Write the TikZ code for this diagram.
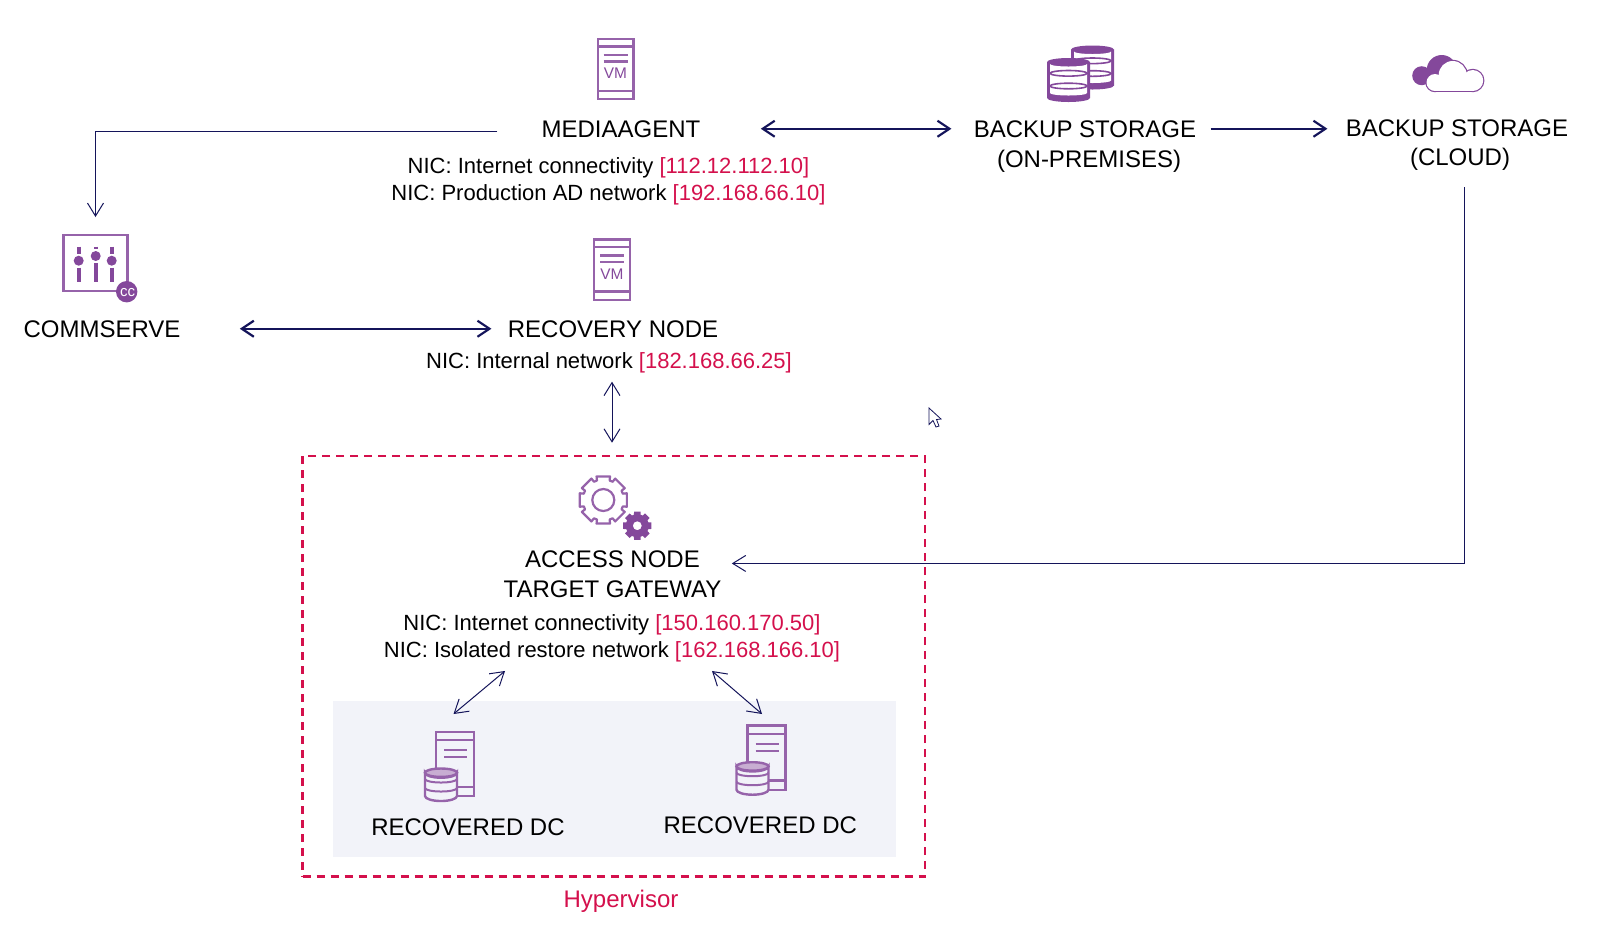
\documentclass[tikz,border=0pt]{standalone}
\usepackage{fontspec}
\setmainfont{Liberation Sans}
\usepackage{xcolor}
\usepackage{tikz}
\usetikzlibrary{arrows.meta,calc}

\definecolor{iconpurple}{HTML}{84489B}
\definecolor{linknavy}{HTML}{14145A}
\definecolor{netred}{HTML}{D4104C}
\definecolor{panelgray}{HTML}{F2F3F9}

\newcommand{\netaddr}[1]{\textcolor{netred}{#1}}

\tikzset{
    titletext/.style={font=\fontsize{12}{14.75}\selectfont, align=center, inner sep=0pt, anchor=base},
    nictext/.style={font=\fontsize{11}{13.3}\selectfont, align=center, inner sep=0pt, anchor=base},
    linkthick/.style={draw=linknavy, line width=1.1pt, >={Straight Barb[length=6pt,width=8pt]}},
    linkthin/.style={draw=linknavy, line width=0.5pt, >={Straight Barb[length=6.5pt,width=8pt]}},
    iconline/.style={draw=iconpurple!85, line width=1.2pt},
    hyperbox/.style={draw=netred, line width=1.3pt, dash pattern=on 4pt off 3pt, minimum width=311.25pt, minimum height=210.35pt, inner sep=0pt},
    % VM server
    vmicon/.pic={
        \draw[iconline] (-17.8,-30.2) rectangle (17.8,30.2);
        \draw[iconline] (-17.8,-22.4) -- (17.8,-22.4) (-17.8,22) -- (17.8,22);
        \draw[iconline] (-12,-14) -- (12,-14) (-12,-7.4) -- (12,-7.4);
        \node[font=\fontsize{7.7}{8}\selectfont, text=iconpurple, inner sep=0pt] (-label) at (0,4.3) {VM};
    },
    % Sliders with badge
    slidericon/.pic={
        \coordinate (-c) at (0,0);
        \draw[iconline] (-32,-27.6) rectangle (32,28.5);
        \foreach \xs/\ky in {-16.8/-1.8, 0.2/-6.5, 16.2/-1.8} {
            \draw[iconpurple, line width=2pt] (\xs,-15.8) -- (\xs,\ky-7) (\xs,\ky+7) -- (\xs,19);
            \fill[iconpurple] (\xs,\ky) circle (5);
        }
        \fill[iconpurple] (31.2,29.2) circle (10.7);
        \node[font=\fontsize{7.5}{8}\selectfont, text=white, inner sep=0pt] (-badge) at (32,30) {cc};
    },
    % Two gears
    gearicon/.pic={
        \draw[iconline, line width=1.1pt, line join=round] (-16:24.5)
            \foreach \a in {0,45,...,315} {
                -- (\a-16:24.5) -- (\a+16:24.5) -- (\a+18:20.5) -- (\a+27:20.5)
            } -- cycle;
        \draw[iconline, line width=1.1pt] (0,0) circle (11);
        \fill[iconpurple, even odd rule] (34,25.7) circle (4.5)
            ++(-13:14.5)
            \foreach \a in {0,45,...,315} {
                -- ($(34,25.7)+(\a-13:14.5)$) -- ($(34,25.7)+(\a+13:14.5)$) -- ($(34,25.7)+(\a+17:11.5)$) -- ($(34,25.7)+(\a+28:11.5)$)
            } -- cycle;
    },
    % Server with database
    dcicon/.pic={
        \coordinate (-c) at (0,0);
        \draw[iconline] (-19,-32.3) rectangle (19,32);
        \draw[iconline] (-19,-24) -- (19,-24) (-19,22.7) -- (19,22.7);
        \draw[iconline] (-11,-14) -- (12,-14) (-11,-7) -- (12,-7);
        \filldraw[iconline, fill=panelgray] (-30,8.7) -- (-30,32) arc[start angle=180,end angle=0,x radius=16,y radius=5] -- (2,8.7) arc[start angle=0,end angle=180,x radius=16,y radius=5] -- cycle;
        \draw[iconline, line width=1pt] (-30,15) arc[start angle=180,end angle=0,x radius=16,y radius=3.5];
        \draw[iconline, line width=1pt] (-30,24) arc[start angle=180,end angle=0,x radius=16,y radius=3.5];
        \filldraw[iconline, fill=iconpurple!45] (-14,8.7) ellipse [x radius=16,y radius=4.2];
    },
    % Solid database drum
    drumicon/.pic={
        \fill[iconpurple] (-21.5,-18) arc[start angle=180,end angle=360,x radius=21.5,y radius=4] -- (21.5,18) arc[start angle=0,end angle=180,x radius=21.5,y radius=4] -- cycle;
        \fill[white] (-18.5,-16) arc[start angle=180,end angle=0,x radius=18.5,y radius=2.5] -- (18.5,13) arc[start angle=0,end angle=180,x radius=18.5,y radius=2.5] -- cycle;
        \draw[iconpurple, line width=0.8pt] (0,-6.7) ellipse [x radius=18.5,y radius=2.8];
        \draw[iconpurple, line width=0.8pt] (0,6) ellipse [x radius=18.5,y radius=2.8];
    }
}

\begin{document}
\begin{tikzpicture}[x=0.5pt, y=-0.5pt]
\useasboundingbox (0,0) rectangle (1604,934);

% Recovered network panel and hypervisor frame
\fill[panelgray] (333,701) rectangle (896,856.7);
\node[hyperbox] (hypervisorbox) at (613.75,666.35) {};
\node[titletext, text=netred] (hypervisor) at (621,907.7) {Hypervisor};

% Top row
\pic (mediaagenticon) at (615.5,69) {vmicon};
\node[titletext] (mediaagent) at (621,137.5) {MEDIAAGENT};
\node[nictext] (mediaagentnic) at (608.5,200) {NIC: Internet connectivity \netaddr{[112.12.112.10]}\\NIC: Production AD network \netaddr{[192.168.66.10]}};

\pic (backupback) at (1092.5,67.5) {drumicon};
\pic (backupfront) at (1068.5,80) {drumicon};
\node[titletext] (backupstore) at (1085,167) {BACKUP STORAGE\\\hspace*{4pt}(ON-PREMISES)};

% Cloud icon
\foreach \cx/\cy/\cr in {1421.7/75.7/9.5, 1441.7/70/15} {
    \fill[iconpurple] (\cx,\cy) circle (\cr);
}
\foreach \cx/\cy/\cr in {1435/82.5/8.5, 1452.7/75/14, 1472.7/80.5/10.5} {
    \filldraw[iconpurple, line width=1.2pt] (\cx,\cy) circle (\cr);
}
\filldraw[iconpurple, line width=1.2pt] (1435,78) rectangle (1472.7,91);
\foreach \cx/\cy/\cr in {1435/82.5/8.5, 1452.7/75/14, 1472.7/80.5/10.5} {
    \fill[white] (\cx,\cy) circle (\cr);
}
\fill[white] (1435,78) rectangle (1472.7,91);
\node[titletext] (cloudstore) at (1457,165.7) {BACKUP STORAGE\\\hspace*{3pt}(CLOUD)};

% Middle row
\pic (commserveicon) at (95.5,262.5) {slidericon};
\node[titletext] (commserve) at (102,337) {COMMSERVE};

\pic (recoveryicon) at (612,269.5) {vmicon};
\node[titletext] (recoverynode) at (613,337) {RECOVERY NODE};
\node[nictext] (recoverynic) at (609,368.7) {NIC: Internal network \netaddr{[182.168.66.25]}};

% Access node
\pic at (603.3,500) {gearicon};
\node[titletext, font=\fontsize{12}{15}\selectfont] (accessnode) at (612.5,597.7) {ACCESS NODE\\TARGET GATEWAY};
\node[nictext] (accessnic) at (612,657) {NIC: Internet connectivity \netaddr{[150.160.170.50]}\\NIC: Isolated restore network \netaddr{[162.168.166.10]}};

% Recovered machines
\pic (dcleft) at (455,764) {dcicon};
\node[titletext] (recoveredleft) at (468,835) {RECOVERED DC};
\pic (dcright) at (766.5,757.7) {dcicon};
\node[titletext] (recoveredright) at (760.3,833.3) {RECOVERED DC};

% Connectors
\draw[linkthin, ->, shorten <=22pt, shorten >=22.75pt] ([yshift=-1.25pt]mediaagent.west) -| (commserveicon-c);
\draw[linkthick, <->, shorten <=30pt, shorten >=11pt] ([yshift=0.25pt]mediaagent.east) -- ([yshift=0.25pt]mediaagent.east -| backupstore.west);
\draw[linkthick, ->, shorten <=7pt, shorten >=9pt] ([yshift=0.25pt]backupstore.east |- mediaagent.east) -- ([yshift=0.25pt]cloudstore.west |- mediaagent.east);
\draw[linkthin, ->, shorten <=8pt, shorten >=5pt] ([xshift=3.5pt]cloudstore.south) |- ([yshift=5.5pt]accessnode.east);
\draw[linkthick, <->, shorten <=29.5pt, shorten >=8pt] (commserve.east) -- (recoverynode.west);
\draw[linkthin, <->, shorten <=4pt, shorten >=6pt] ([xshift=1.5pt]recoverynic.south) -- ([xshift=1.5pt]recoverynic.south |- hypervisorbox.north);
\draw[linkthin, <->] ($(accessnic.south)+(-107,9)$) -- ($(dcleft-c)+(-1.5,-50)$);
\draw[linkthin, <->] ($(accessnic.south)+(100,9)$) -- ($(dcright-c)+(-4.5,-43.7)$);

% Mouse pointer
\filldraw[draw=linknavy, fill=white, line width=0.4pt] (929,408) -- (929,424.5) -- (933,420.5) -- (936,427) -- (939,426) -- (936.5,419.5) -- (941,419) -- cycle;

\end{tikzpicture}
\end{document}
